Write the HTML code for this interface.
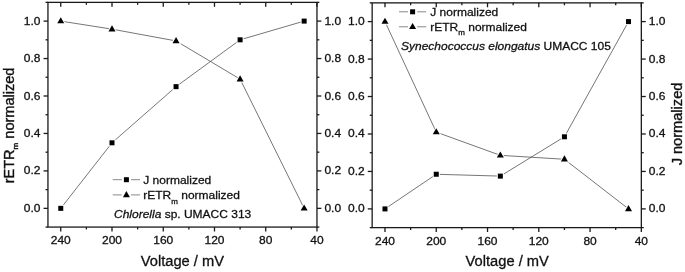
<!DOCTYPE html>
<html><head><meta charset="utf-8"><title>chart</title>
<style>
html,body{margin:0;padding:0;background:#fff;}
svg{display:block;will-change:transform;}
text{font-family:"Liberation Sans",sans-serif;fill:#111;stroke:#111;stroke-width:0.3px;}
.t{font-size:12px;}
.l{font-size:12px;}
.a{font-size:14.7px;}
</style></head><body>
<svg width="685" height="272" viewBox="0 0 685 272">
<rect x="0" y="0" width="685" height="272" fill="#fff"/>
<rect x="47.95" y="2.37" width="269.01" height="224.70" fill="none" stroke="#1a1a1a" stroke-width="1.3"/>
<line x1="60.76" y1="227.07" x2="60.76" y2="231.47" stroke="#1a1a1a" stroke-width="1.3"/>
<line x1="60.76" y1="2.37" x2="60.76" y2="6.77" stroke="#1a1a1a" stroke-width="1.3"/>
<text transform="translate(60.76,244.07) scale(1,0.95)" text-anchor="middle" class="t">240</text>
<line x1="86.38" y1="227.07" x2="86.38" y2="229.47" stroke="#1a1a1a" stroke-width="1.3"/>
<line x1="86.38" y1="2.37" x2="86.38" y2="4.77" stroke="#1a1a1a" stroke-width="1.3"/>
<line x1="112.00" y1="227.07" x2="112.00" y2="231.47" stroke="#1a1a1a" stroke-width="1.3"/>
<line x1="112.00" y1="2.37" x2="112.00" y2="6.77" stroke="#1a1a1a" stroke-width="1.3"/>
<text transform="translate(112.00,244.07) scale(1,0.95)" text-anchor="middle" class="t">200</text>
<line x1="137.62" y1="227.07" x2="137.62" y2="229.47" stroke="#1a1a1a" stroke-width="1.3"/>
<line x1="137.62" y1="2.37" x2="137.62" y2="4.77" stroke="#1a1a1a" stroke-width="1.3"/>
<line x1="163.24" y1="227.07" x2="163.24" y2="231.47" stroke="#1a1a1a" stroke-width="1.3"/>
<line x1="163.24" y1="2.37" x2="163.24" y2="6.77" stroke="#1a1a1a" stroke-width="1.3"/>
<text transform="translate(163.24,244.07) scale(1,0.95)" text-anchor="middle" class="t">160</text>
<line x1="188.86" y1="227.07" x2="188.86" y2="229.47" stroke="#1a1a1a" stroke-width="1.3"/>
<line x1="188.86" y1="2.37" x2="188.86" y2="4.77" stroke="#1a1a1a" stroke-width="1.3"/>
<line x1="214.48" y1="227.07" x2="214.48" y2="231.47" stroke="#1a1a1a" stroke-width="1.3"/>
<line x1="214.48" y1="2.37" x2="214.48" y2="6.77" stroke="#1a1a1a" stroke-width="1.3"/>
<text transform="translate(214.48,244.07) scale(1,0.95)" text-anchor="middle" class="t">120</text>
<line x1="240.10" y1="227.07" x2="240.10" y2="229.47" stroke="#1a1a1a" stroke-width="1.3"/>
<line x1="240.10" y1="2.37" x2="240.10" y2="4.77" stroke="#1a1a1a" stroke-width="1.3"/>
<line x1="265.72" y1="227.07" x2="265.72" y2="231.47" stroke="#1a1a1a" stroke-width="1.3"/>
<line x1="265.72" y1="2.37" x2="265.72" y2="6.77" stroke="#1a1a1a" stroke-width="1.3"/>
<text transform="translate(265.72,244.07) scale(1,0.95)" text-anchor="middle" class="t">80</text>
<line x1="291.34" y1="227.07" x2="291.34" y2="229.47" stroke="#1a1a1a" stroke-width="1.3"/>
<line x1="291.34" y1="2.37" x2="291.34" y2="4.77" stroke="#1a1a1a" stroke-width="1.3"/>
<line x1="316.96" y1="227.07" x2="316.96" y2="231.47" stroke="#1a1a1a" stroke-width="1.3"/>
<line x1="316.96" y1="2.37" x2="316.96" y2="6.77" stroke="#1a1a1a" stroke-width="1.3"/>
<text transform="translate(316.96,244.07) scale(1,0.95)" text-anchor="middle" class="t">40</text>
<line x1="45.55" y1="227.07" x2="47.95" y2="227.07" stroke="#1a1a1a" stroke-width="1.3"/>
<line x1="316.96" y1="227.07" x2="319.36" y2="227.07" stroke="#1a1a1a" stroke-width="1.3"/>
<line x1="43.55" y1="208.35" x2="47.95" y2="208.35" stroke="#1a1a1a" stroke-width="1.3"/>
<line x1="316.96" y1="208.35" x2="321.36" y2="208.35" stroke="#1a1a1a" stroke-width="1.3"/>
<text transform="translate(40.45,211.85) scale(1,0.95)" text-anchor="end" class="t">0.0</text>
<text transform="translate(324.46,211.85) scale(1,0.95)" text-anchor="start" class="t">0.0</text>
<line x1="45.55" y1="189.62" x2="47.95" y2="189.62" stroke="#1a1a1a" stroke-width="1.3"/>
<line x1="316.96" y1="189.62" x2="319.36" y2="189.62" stroke="#1a1a1a" stroke-width="1.3"/>
<line x1="43.55" y1="170.90" x2="47.95" y2="170.90" stroke="#1a1a1a" stroke-width="1.3"/>
<line x1="316.96" y1="170.90" x2="321.36" y2="170.90" stroke="#1a1a1a" stroke-width="1.3"/>
<text transform="translate(40.45,174.40) scale(1,0.95)" text-anchor="end" class="t">0.2</text>
<text transform="translate(324.46,174.40) scale(1,0.95)" text-anchor="start" class="t">0.2</text>
<line x1="45.55" y1="152.18" x2="47.95" y2="152.18" stroke="#1a1a1a" stroke-width="1.3"/>
<line x1="316.96" y1="152.18" x2="319.36" y2="152.18" stroke="#1a1a1a" stroke-width="1.3"/>
<line x1="43.55" y1="133.45" x2="47.95" y2="133.45" stroke="#1a1a1a" stroke-width="1.3"/>
<line x1="316.96" y1="133.45" x2="321.36" y2="133.45" stroke="#1a1a1a" stroke-width="1.3"/>
<text transform="translate(40.45,136.95) scale(1,0.95)" text-anchor="end" class="t">0.4</text>
<text transform="translate(324.46,136.95) scale(1,0.95)" text-anchor="start" class="t">0.4</text>
<line x1="45.55" y1="114.72" x2="47.95" y2="114.72" stroke="#1a1a1a" stroke-width="1.3"/>
<line x1="316.96" y1="114.72" x2="319.36" y2="114.72" stroke="#1a1a1a" stroke-width="1.3"/>
<line x1="43.55" y1="96.00" x2="47.95" y2="96.00" stroke="#1a1a1a" stroke-width="1.3"/>
<line x1="316.96" y1="96.00" x2="321.36" y2="96.00" stroke="#1a1a1a" stroke-width="1.3"/>
<text transform="translate(40.45,99.50) scale(1,0.95)" text-anchor="end" class="t">0.6</text>
<text transform="translate(324.46,99.50) scale(1,0.95)" text-anchor="start" class="t">0.6</text>
<line x1="45.55" y1="77.28" x2="47.95" y2="77.28" stroke="#1a1a1a" stroke-width="1.3"/>
<line x1="316.96" y1="77.28" x2="319.36" y2="77.28" stroke="#1a1a1a" stroke-width="1.3"/>
<line x1="43.55" y1="58.55" x2="47.95" y2="58.55" stroke="#1a1a1a" stroke-width="1.3"/>
<line x1="316.96" y1="58.55" x2="321.36" y2="58.55" stroke="#1a1a1a" stroke-width="1.3"/>
<text transform="translate(40.45,62.05) scale(1,0.95)" text-anchor="end" class="t">0.8</text>
<text transform="translate(324.46,62.05) scale(1,0.95)" text-anchor="start" class="t">0.8</text>
<line x1="45.55" y1="39.82" x2="47.95" y2="39.82" stroke="#1a1a1a" stroke-width="1.3"/>
<line x1="316.96" y1="39.82" x2="319.36" y2="39.82" stroke="#1a1a1a" stroke-width="1.3"/>
<line x1="43.55" y1="21.10" x2="47.95" y2="21.10" stroke="#1a1a1a" stroke-width="1.3"/>
<line x1="316.96" y1="21.10" x2="321.36" y2="21.10" stroke="#1a1a1a" stroke-width="1.3"/>
<text transform="translate(40.45,24.60) scale(1,0.95)" text-anchor="end" class="t">1.0</text>
<text transform="translate(324.46,24.60) scale(1,0.95)" text-anchor="start" class="t">1.0</text>
<line x1="45.55" y1="2.37" x2="47.95" y2="2.37" stroke="#1a1a1a" stroke-width="1.3"/>
<line x1="316.96" y1="2.37" x2="319.36" y2="2.37" stroke="#1a1a1a" stroke-width="1.3"/>
<polyline points="60.76,21.10 112.00,29.15 176.05,40.95 240.10,79.15 304.15,208.35" stroke="#484848" stroke-width="0.75" fill="none"/>
<polyline points="60.76,208.35 112.00,142.81 176.05,86.64 240.10,39.82 304.15,21.10" stroke="#484848" stroke-width="0.75" fill="none"/>
<path d="M57.26,23.35 L64.26,23.35 L60.76,17.20 Z" fill="#000" stroke="#fff" stroke-width="2" paint-order="stroke"/>
<path d="M108.50,31.40 L115.50,31.40 L112.00,25.25 Z" fill="#000" stroke="#fff" stroke-width="2" paint-order="stroke"/>
<path d="M172.55,43.20 L179.55,43.20 L176.05,37.05 Z" fill="#000" stroke="#fff" stroke-width="2" paint-order="stroke"/>
<path d="M236.60,81.40 L243.60,81.40 L240.10,75.25 Z" fill="#000" stroke="#fff" stroke-width="2" paint-order="stroke"/>
<path d="M300.65,210.60 L307.65,210.60 L304.15,204.45 Z" fill="#000" stroke="#fff" stroke-width="2" paint-order="stroke"/>
<rect x="58.26" y="205.85" width="5.00" height="5.00" fill="#000" stroke="#fff" stroke-width="2" paint-order="stroke"/>
<rect x="109.50" y="140.31" width="5.00" height="5.00" fill="#000" stroke="#fff" stroke-width="2" paint-order="stroke"/>
<rect x="173.55" y="84.14" width="5.00" height="5.00" fill="#000" stroke="#fff" stroke-width="2" paint-order="stroke"/>
<rect x="237.60" y="37.32" width="5.00" height="5.00" fill="#000" stroke="#fff" stroke-width="2" paint-order="stroke"/>
<rect x="301.65" y="18.60" width="5.00" height="5.00" fill="#000" stroke="#fff" stroke-width="2" paint-order="stroke"/>
<rect x="372.16" y="2.87" width="269.17" height="224.76" fill="none" stroke="#1a1a1a" stroke-width="1.3"/>
<line x1="384.98" y1="227.63" x2="384.98" y2="232.03" stroke="#1a1a1a" stroke-width="1.3"/>
<line x1="384.98" y1="2.87" x2="384.98" y2="7.27" stroke="#1a1a1a" stroke-width="1.3"/>
<text transform="translate(384.98,244.63) scale(1,0.95)" text-anchor="middle" class="t">240</text>
<line x1="410.62" y1="227.63" x2="410.62" y2="230.03" stroke="#1a1a1a" stroke-width="1.3"/>
<line x1="410.62" y1="2.87" x2="410.62" y2="5.27" stroke="#1a1a1a" stroke-width="1.3"/>
<line x1="436.25" y1="227.63" x2="436.25" y2="232.03" stroke="#1a1a1a" stroke-width="1.3"/>
<line x1="436.25" y1="2.87" x2="436.25" y2="7.27" stroke="#1a1a1a" stroke-width="1.3"/>
<text transform="translate(436.25,244.63) scale(1,0.95)" text-anchor="middle" class="t">200</text>
<line x1="461.88" y1="227.63" x2="461.88" y2="230.03" stroke="#1a1a1a" stroke-width="1.3"/>
<line x1="461.88" y1="2.87" x2="461.88" y2="5.27" stroke="#1a1a1a" stroke-width="1.3"/>
<line x1="487.52" y1="227.63" x2="487.52" y2="232.03" stroke="#1a1a1a" stroke-width="1.3"/>
<line x1="487.52" y1="2.87" x2="487.52" y2="7.27" stroke="#1a1a1a" stroke-width="1.3"/>
<text transform="translate(487.52,244.63) scale(1,0.95)" text-anchor="middle" class="t">160</text>
<line x1="513.15" y1="227.63" x2="513.15" y2="230.03" stroke="#1a1a1a" stroke-width="1.3"/>
<line x1="513.15" y1="2.87" x2="513.15" y2="5.27" stroke="#1a1a1a" stroke-width="1.3"/>
<line x1="538.79" y1="227.63" x2="538.79" y2="232.03" stroke="#1a1a1a" stroke-width="1.3"/>
<line x1="538.79" y1="2.87" x2="538.79" y2="7.27" stroke="#1a1a1a" stroke-width="1.3"/>
<text transform="translate(538.79,244.63) scale(1,0.95)" text-anchor="middle" class="t">120</text>
<line x1="564.43" y1="227.63" x2="564.43" y2="230.03" stroke="#1a1a1a" stroke-width="1.3"/>
<line x1="564.43" y1="2.87" x2="564.43" y2="5.27" stroke="#1a1a1a" stroke-width="1.3"/>
<line x1="590.06" y1="227.63" x2="590.06" y2="232.03" stroke="#1a1a1a" stroke-width="1.3"/>
<line x1="590.06" y1="2.87" x2="590.06" y2="7.27" stroke="#1a1a1a" stroke-width="1.3"/>
<text transform="translate(590.06,244.63) scale(1,0.95)" text-anchor="middle" class="t">80</text>
<line x1="615.70" y1="227.63" x2="615.70" y2="230.03" stroke="#1a1a1a" stroke-width="1.3"/>
<line x1="615.70" y1="2.87" x2="615.70" y2="5.27" stroke="#1a1a1a" stroke-width="1.3"/>
<line x1="641.33" y1="227.63" x2="641.33" y2="232.03" stroke="#1a1a1a" stroke-width="1.3"/>
<line x1="641.33" y1="2.87" x2="641.33" y2="7.27" stroke="#1a1a1a" stroke-width="1.3"/>
<text transform="translate(641.33,244.63) scale(1,0.95)" text-anchor="middle" class="t">40</text>
<line x1="369.76" y1="227.63" x2="372.16" y2="227.63" stroke="#1a1a1a" stroke-width="1.3"/>
<line x1="641.33" y1="227.63" x2="643.73" y2="227.63" stroke="#1a1a1a" stroke-width="1.3"/>
<line x1="367.76" y1="208.90" x2="372.16" y2="208.90" stroke="#1a1a1a" stroke-width="1.3"/>
<line x1="641.33" y1="208.90" x2="645.73" y2="208.90" stroke="#1a1a1a" stroke-width="1.3"/>
<text transform="translate(364.66,212.40) scale(1,0.95)" text-anchor="end" class="t">0.0</text>
<text transform="translate(648.83,212.40) scale(1,0.95)" text-anchor="start" class="t">0.0</text>
<line x1="369.76" y1="190.17" x2="372.16" y2="190.17" stroke="#1a1a1a" stroke-width="1.3"/>
<line x1="641.33" y1="190.17" x2="643.73" y2="190.17" stroke="#1a1a1a" stroke-width="1.3"/>
<line x1="367.76" y1="171.44" x2="372.16" y2="171.44" stroke="#1a1a1a" stroke-width="1.3"/>
<line x1="641.33" y1="171.44" x2="645.73" y2="171.44" stroke="#1a1a1a" stroke-width="1.3"/>
<text transform="translate(364.66,174.94) scale(1,0.95)" text-anchor="end" class="t">0.2</text>
<text transform="translate(648.83,174.94) scale(1,0.95)" text-anchor="start" class="t">0.2</text>
<line x1="369.76" y1="152.71" x2="372.16" y2="152.71" stroke="#1a1a1a" stroke-width="1.3"/>
<line x1="641.33" y1="152.71" x2="643.73" y2="152.71" stroke="#1a1a1a" stroke-width="1.3"/>
<line x1="367.76" y1="133.98" x2="372.16" y2="133.98" stroke="#1a1a1a" stroke-width="1.3"/>
<line x1="641.33" y1="133.98" x2="645.73" y2="133.98" stroke="#1a1a1a" stroke-width="1.3"/>
<text transform="translate(364.66,137.48) scale(1,0.95)" text-anchor="end" class="t">0.4</text>
<text transform="translate(648.83,137.48) scale(1,0.95)" text-anchor="start" class="t">0.4</text>
<line x1="369.76" y1="115.25" x2="372.16" y2="115.25" stroke="#1a1a1a" stroke-width="1.3"/>
<line x1="641.33" y1="115.25" x2="643.73" y2="115.25" stroke="#1a1a1a" stroke-width="1.3"/>
<line x1="367.76" y1="96.52" x2="372.16" y2="96.52" stroke="#1a1a1a" stroke-width="1.3"/>
<line x1="641.33" y1="96.52" x2="645.73" y2="96.52" stroke="#1a1a1a" stroke-width="1.3"/>
<text transform="translate(364.66,100.02) scale(1,0.95)" text-anchor="end" class="t">0.6</text>
<text transform="translate(648.83,100.02) scale(1,0.95)" text-anchor="start" class="t">0.6</text>
<line x1="369.76" y1="77.79" x2="372.16" y2="77.79" stroke="#1a1a1a" stroke-width="1.3"/>
<line x1="641.33" y1="77.79" x2="643.73" y2="77.79" stroke="#1a1a1a" stroke-width="1.3"/>
<line x1="367.76" y1="59.06" x2="372.16" y2="59.06" stroke="#1a1a1a" stroke-width="1.3"/>
<line x1="641.33" y1="59.06" x2="645.73" y2="59.06" stroke="#1a1a1a" stroke-width="1.3"/>
<text transform="translate(364.66,62.56) scale(1,0.95)" text-anchor="end" class="t">0.8</text>
<text transform="translate(648.83,62.56) scale(1,0.95)" text-anchor="start" class="t">0.8</text>
<line x1="369.76" y1="40.33" x2="372.16" y2="40.33" stroke="#1a1a1a" stroke-width="1.3"/>
<line x1="641.33" y1="40.33" x2="643.73" y2="40.33" stroke="#1a1a1a" stroke-width="1.3"/>
<line x1="367.76" y1="21.60" x2="372.16" y2="21.60" stroke="#1a1a1a" stroke-width="1.3"/>
<line x1="641.33" y1="21.60" x2="645.73" y2="21.60" stroke="#1a1a1a" stroke-width="1.3"/>
<text transform="translate(364.66,25.10) scale(1,0.95)" text-anchor="end" class="t">1.0</text>
<text transform="translate(648.83,25.10) scale(1,0.95)" text-anchor="start" class="t">1.0</text>
<line x1="369.76" y1="2.87" x2="372.16" y2="2.87" stroke="#1a1a1a" stroke-width="1.3"/>
<line x1="641.33" y1="2.87" x2="643.73" y2="2.87" stroke="#1a1a1a" stroke-width="1.3"/>
<polyline points="384.98,21.60 436.25,132.11 500.34,155.33 564.43,159.27 628.51,208.90" stroke="#484848" stroke-width="0.75" fill="none"/>
<polyline points="384.98,208.90 436.25,174.25 500.34,176.12 564.43,136.79 628.51,21.60" stroke="#484848" stroke-width="0.75" fill="none"/>
<path d="M381.48,23.85 L388.48,23.85 L384.98,17.70 Z" fill="#000" stroke="#fff" stroke-width="2" paint-order="stroke"/>
<path d="M432.75,134.36 L439.75,134.36 L436.25,128.21 Z" fill="#000" stroke="#fff" stroke-width="2" paint-order="stroke"/>
<path d="M496.84,157.58 L503.84,157.58 L500.34,151.43 Z" fill="#000" stroke="#fff" stroke-width="2" paint-order="stroke"/>
<path d="M560.93,161.52 L567.93,161.52 L564.43,155.37 Z" fill="#000" stroke="#fff" stroke-width="2" paint-order="stroke"/>
<path d="M625.01,211.15 L632.01,211.15 L628.51,205.00 Z" fill="#000" stroke="#fff" stroke-width="2" paint-order="stroke"/>
<rect x="382.48" y="206.40" width="5.00" height="5.00" fill="#000" stroke="#fff" stroke-width="2" paint-order="stroke"/>
<rect x="433.75" y="171.75" width="5.00" height="5.00" fill="#000" stroke="#fff" stroke-width="2" paint-order="stroke"/>
<rect x="497.84" y="173.62" width="5.00" height="5.00" fill="#000" stroke="#fff" stroke-width="2" paint-order="stroke"/>
<rect x="561.93" y="134.29" width="5.00" height="5.00" fill="#000" stroke="#fff" stroke-width="2" paint-order="stroke"/>
<rect x="626.01" y="19.10" width="5.00" height="5.00" fill="#000" stroke="#fff" stroke-width="2" paint-order="stroke"/>
<line x1="112.80" y1="179.70" x2="121.80" y2="179.70" stroke="#7a7a7a" stroke-width="0.9"/>
<line x1="131.00" y1="179.70" x2="140.00" y2="179.70" stroke="#7a7a7a" stroke-width="0.9"/>
<rect x="123.90" y="177.20" width="5.00" height="5.00" fill="#000" />
<text transform="translate(143.30,183.80) scale(1,0.92)" text-anchor="start" class="l">J normalized</text>
<line x1="112.80" y1="194.90" x2="121.80" y2="194.90" stroke="#7a7a7a" stroke-width="0.9"/>
<line x1="131.00" y1="194.90" x2="140.00" y2="194.90" stroke="#7a7a7a" stroke-width="0.9"/>
<path d="M122.90,197.15 L129.90,197.15 L126.40,191.00 Z" fill="#000" />
<text transform="translate(143.30,199.00) scale(1,0.92)" text-anchor="start" class="l">rETR<tspan dy="4.9" font-size="8">m</tspan><tspan dy="-4.9"> normalized</tspan></text>
<text transform="translate(114.00,218.00) scale(1,0.92)" text-anchor="start" class="l"><tspan font-style="italic">Chlorella</tspan> sp. UMACC 313</text>
<line x1="399.00" y1="11.80" x2="408.00" y2="11.80" stroke="#7a7a7a" stroke-width="0.9"/>
<line x1="417.20" y1="11.80" x2="426.20" y2="11.80" stroke="#7a7a7a" stroke-width="0.9"/>
<rect x="410.10" y="9.30" width="5.00" height="5.00" fill="#000" />
<text transform="translate(430.30,15.90) scale(1,0.92)" text-anchor="start" class="l">J normalized</text>
<line x1="399.00" y1="26.80" x2="408.00" y2="26.80" stroke="#7a7a7a" stroke-width="0.9"/>
<line x1="417.20" y1="26.80" x2="426.20" y2="26.80" stroke="#7a7a7a" stroke-width="0.9"/>
<path d="M409.10,29.05 L416.10,29.05 L412.60,22.90 Z" fill="#000" />
<text transform="translate(430.30,30.70) scale(1,0.92)" text-anchor="start" class="l">rETR<tspan dy="4.9" font-size="8">m</tspan><tspan dy="-4.9"> normalized</tspan></text>
<text transform="translate(401.00,50.00) scale(1,0.92)" text-anchor="start" class="l"><tspan font-style="italic">Synechococcus elongatus</tspan> UMACC 105</text>
<text transform="translate(182.40,265.50) scale(1,0.975)" text-anchor="middle" class="a">Voltage / mV</text>
<text transform="translate(507.20,266.30) scale(1,0.975)" text-anchor="middle" class="a">Voltage / mV</text>
<text transform="translate(13.5,125.45) rotate(-90)" text-anchor="middle" class="a" style="font-size:14.55px;stroke-width:0.38px">rETR<tspan dy="4.5" font-size="8">m</tspan><tspan dy="-4.5"> normalized</tspan></text>
<text transform="translate(682.4,124) rotate(-90)" text-anchor="middle" class="a" style="font-size:14.6px;stroke-width:0.38px">J normalized</text>
</svg>
</body></html>
